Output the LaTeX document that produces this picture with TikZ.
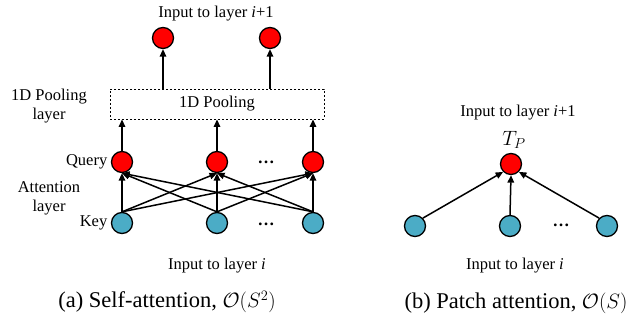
\documentclass[tikz,border=0pt]{standalone}
\usepackage{fontspec}
\setmainfont{Liberation Serif}
\usetikzlibrary{arrows.meta}
\definecolor{keyblue}{RGB}{75,172,198}

\begin{document}
\begin{tikzpicture}[
    x=1pt, y=1pt, line width=1.5pt,
    font=\fontsize{16.5}{19}\selectfont,
    every node/.append style={inner sep=0pt},
    query/.style={circle, draw, line width=1.3pt, fill=red, minimum size=21pt},
    key/.style={circle, draw, line width=1.3pt, fill=keyblue, minimum size=21pt},
    link/.style={-{Triangle[length=7.5pt,width=6.5pt]}},
    dots/.style={anchor=base, font=\fontsize{17}{19}\selectfont\bfseries},
    caption/.style={font=\fontsize{22.5}{27}\selectfont}
]
    \useasboundingbox (0,0) rectangle (632,320);

    % (a) self-attention with pooling
    \foreach \n/\x in {1/122,2/217,3/313} {
        \node[key] (k\n) at (\x,97) {};
        \node[query] (q\n) at (\x,158) {};
    }
    \node[dots] (qdots) at (266,156.5) {\dots};
    \node[dots] (kdots) at (266,94.5) {\dots};
    \node[draw, line width=0.9pt, dash pattern=on 2pt off 2pt,
          minimum width=214pt, minimum height=30pt] (pool) at (217,216) {1D Pooling};
    \node[query] (o1) at (163,282) {};
    \node[query] (o2) at (270,282) {};

    \foreach \i in {1,2,3}
        \foreach \j in {1,2,3}
            \draw[link] (k\i.north) -- (q\j.south);
    \foreach \i in {1,2,3}
        \draw[link] (q\i.north) -- (q\i |- pool.south);
    \foreach \i in {1,2}
        \draw[link] (o\i |- pool.north) -- (o\i.south);

    \node (outa) at (216,306) {Input to layer \textit{i}+1};
    \node[align=center] (poollbl) at (49,214) {1D Pooling\\layer};
    \node[anchor=east] (qlbl) at (108,158) {Query};
    \node[align=center] (attlbl) at (49,122) {Attention\\layer};
    \node[anchor=east] (klbl) at (108,97) {Key};
    \node (ina) at (217,54) {Input to layer \textit{i}};
    \node[caption] (capa) at (167,18) {(a) Self-attention, $\mathcal{O}(S^2)$};

    % (b) patch attention
    \node[query] (p) at (511,156) {};
    \foreach \n/\x in {1/415,2/510,3/607}
        \node[key] (b\n) at (\x,94) {};
    \node[dots] (bdots) at (561,93.5) {\dots};
    \draw[link] (b1.north east) -- (p.south west);
    \draw[link] (b2.north) -- (p.south);
    \draw[link] (b3.north west) -- (p.south east);

    \node[font=\fontsize{20}{22}\selectfont] (tp) at (514,180) {$T_P$};
    \node (outb) at (518,207) {Input to layer \textit{i}+1};
    \node (inb) at (515,54) {Input to layer \textit{i}};
    \node[caption] (capb) at (516,17) {(b) Patch attention, $\mathcal{O}(S)$};
\end{tikzpicture}
\end{document}
